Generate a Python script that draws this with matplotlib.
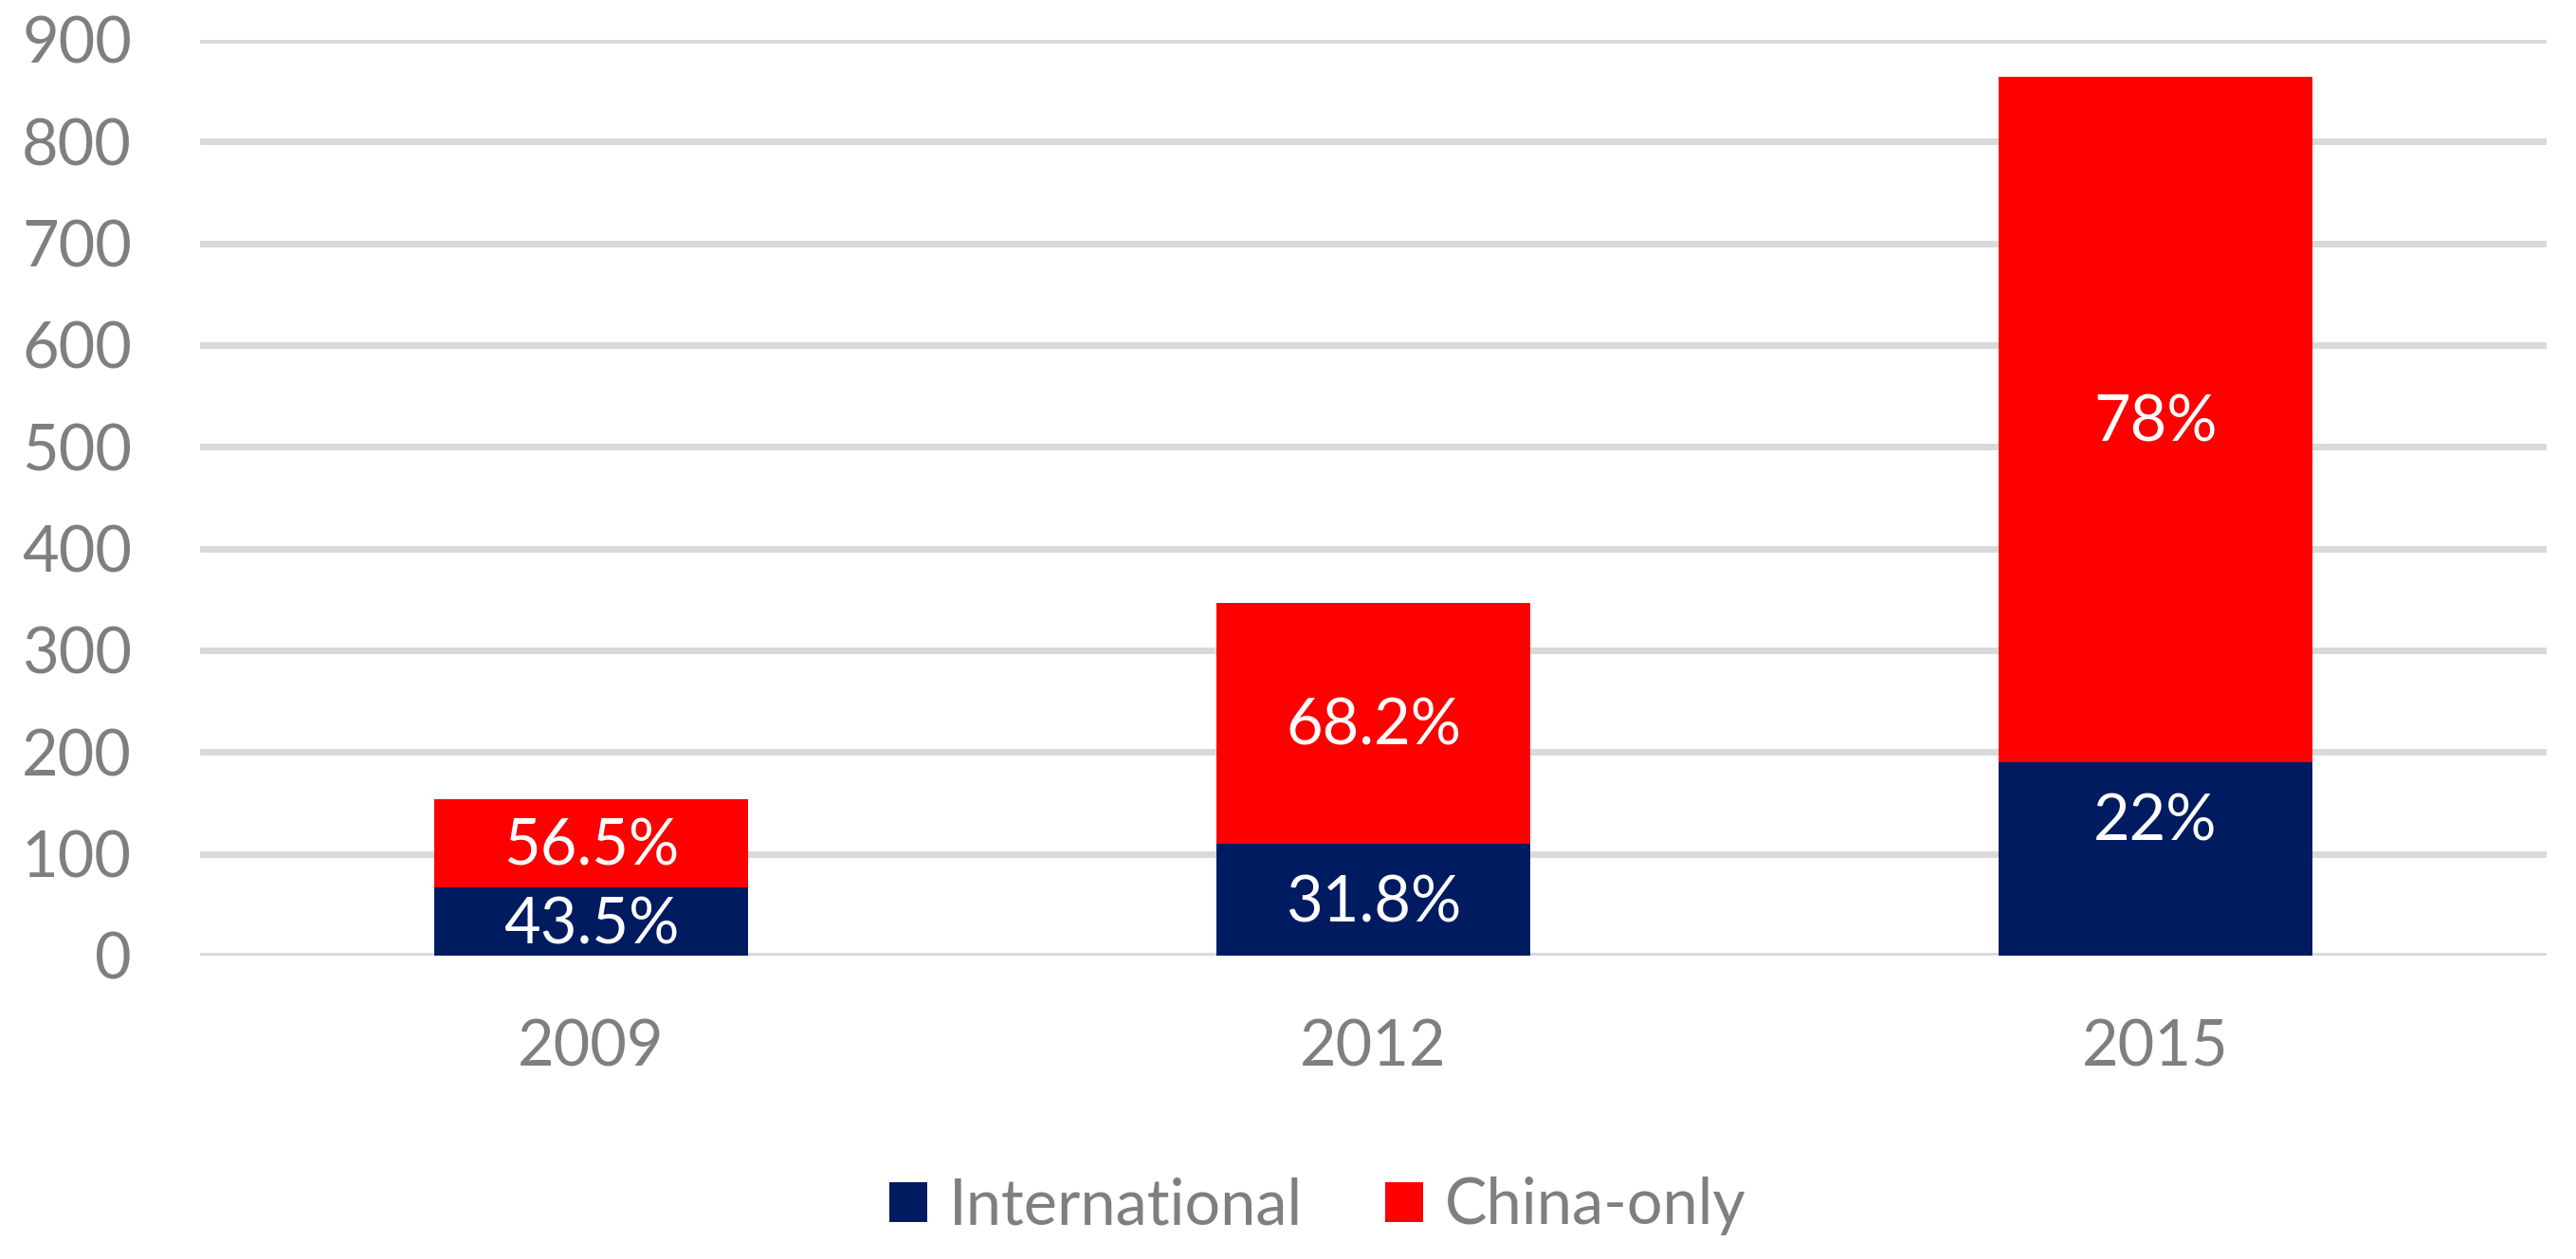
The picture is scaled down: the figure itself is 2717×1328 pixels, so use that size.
import matplotlib
matplotlib.use("Agg")
import matplotlib.pyplot as plt

# Data
years = ["2009", "2012", "2015"]
international = [67, 110, 190]
china_only = [87, 237, 674]
intl_labels = ["43.5%", "31.8%", "22%"]
china_labels = ["56.5%", "68.2%", "78%"]
yticks = [0, 100, 200, 300, 400, 500, 600, 700, 800, 900]

navy = "#011B61"
red = "#FF0000"
gray = "#7F7F7F"
grid = "#D9D9D9"

plt.rcParams["font.family"] = ["Lato", "DejaVu Sans"]
fs = 48

fig = plt.figure(figsize=(27.17, 13.28), dpi=100)
ax = fig.add_axes([0.0777, 0.2410, 0.9109, 0.7274])

x = range(len(years))
b1 = ax.bar(x, international, width=0.401, color=navy, label="International", zorder=3)
b2 = ax.bar(x, china_only, width=0.401, bottom=international, color=red, label="China-only", zorder=3)

l1 = ax.bar_label(b1, labels=intl_labels, label_type="center", color="white", fontsize=fs)
l2 = ax.bar_label(b2, labels=china_labels, label_type="center", color="white", fontsize=fs)
# the 22% label sits higher than the middle of its segment in the original
l1[2].xyann = (0, 31)
for lab in list(l1) + list(l2):
    lab.xyann = (lab.xyann[0], lab.xyann[1] - 3)

ax.set_xlim(-0.5, 2.5)
ax.set_ylim(0, 900)
ax.set_yticks(yticks)
ax.set_xticks(list(x))
ax.set_xticklabels(years)
ax.tick_params(axis="both", length=0, labelsize=fs, labelcolor=gray)
ax.tick_params(axis="y", pad=52)
ax.tick_params(axis="x", pad=48)
ax.yaxis.grid(True, color=grid, linewidth=5, zorder=0)
ax.set_axisbelow(True)
for s in ax.spines.values():
    s.set_visible(False)

fig.legend(loc="center", bbox_to_anchor=(0.5116, 0.042), ncol=2, frameon=False,
           fontsize=fs, labelcolor=gray, handlelength=0.6, handleheight=0.6,
           handletextpad=0.35, columnspacing=1.3)

fig.savefig("out.png", dpi=100)
